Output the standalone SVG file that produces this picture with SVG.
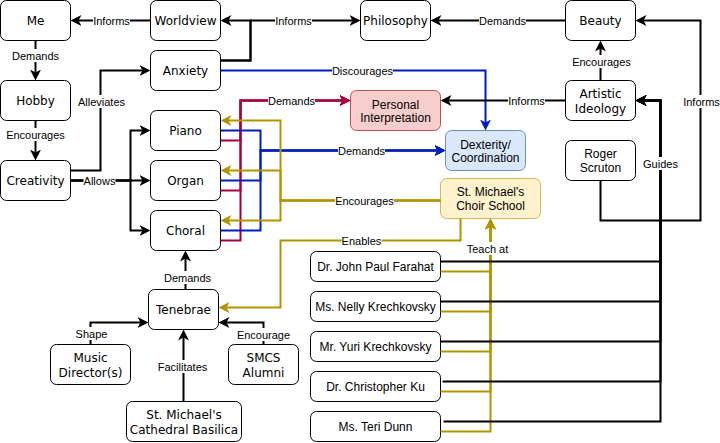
<svg xmlns="http://www.w3.org/2000/svg" width="720" height="443" viewBox="0 0 720 443">
<style>
.n{fill:#fff;stroke:#000;stroke-width:1}
.t{font-family:"DejaVu Sans",sans-serif;font-size:12px;text-anchor:middle;dominant-baseline:central;fill:#000}
.h{font-family:"Liberation Sans",Arial,sans-serif;font-size:12px;text-anchor:middle;dominant-baseline:central;fill:#000}
.e{fill:none;stroke-width:2}
.k{stroke:#000}.b{stroke:#001DBC}.r{stroke:#A50040}.g{stroke:#B09500}
.lb rect{fill:#fff}
.lb text{font-family:"Liberation Sans",Arial,sans-serif;font-size:11px;text-anchor:middle;dominant-baseline:central;fill:#000}
</style>
<defs>
<marker id="mk" markerUnits="userSpaceOnUse" markerWidth="12" markerHeight="12" refX="5" refY="5.5" orient="auto"><path d="M0,0 L11,5.5 L0,11 L3,5.5 Z" fill="#000"/></marker>
<marker id="mb" markerUnits="userSpaceOnUse" markerWidth="12" markerHeight="12" refX="5" refY="5.5" orient="auto"><path d="M0,0 L11,5.5 L0,11 L3,5.5 Z" fill="#001DBC"/></marker>
<marker id="mr" markerUnits="userSpaceOnUse" markerWidth="12" markerHeight="12" refX="5" refY="5.5" orient="auto"><path d="M0,0 L11,5.5 L0,11 L3,5.5 Z" fill="#A50040"/></marker>
<marker id="mg" markerUnits="userSpaceOnUse" markerWidth="12" markerHeight="12" refX="5" refY="5.5" orient="auto"><path d="M0,0 L11,5.5 L0,11 L3,5.5 Z" fill="#B09500"/></marker>
</defs>
<g transform="translate(0.5,0.5)">
<g id="nodes">
<g id="me"><rect class="n" x="0" y="0" width="70" height="40" rx="6"/><text class="t" x="35" y="20">Me</text></g>
<g id="worldview"><rect class="n" x="150" y="0" width="70" height="40" rx="6"/><text class="t" x="185" y="20">Worldview</text></g>
<g id="philosophy"><rect class="n" x="360" y="0" width="70" height="40" rx="6"/><text class="t" x="395" y="20">Philosophy</text></g>
<g id="beauty"><rect class="n" x="565" y="0" width="70" height="40" rx="6"/><text class="t" x="600" y="20">Beauty</text></g>
<g id="anxiety"><rect class="n" x="150" y="50" width="70" height="40" rx="6"/><text class="t" x="185" y="70">Anxiety</text></g>
<g id="hobby"><rect class="n" x="0" y="80" width="70" height="40" rx="6"/><text class="t" x="35" y="100">Hobby</text></g>
<g id="artistic"><rect class="n" x="565" y="80" width="70" height="40" rx="6"/><text class="t" x="600" y="93">Artistic</text><text class="t" x="600" y="108">Ideology</text></g>
<g id="personal"><rect x="350" y="90" width="90" height="40" rx="6" fill="#f8cecc" stroke="#b85450"/><text class="h" x="395" y="104">Personal</text><text class="h" x="395" y="117.5">Interpretation</text></g>
<g id="piano"><rect class="n" x="150" y="110" width="70" height="40" rx="6"/><text class="t" x="185" y="130">Piano</text></g>
<g id="dexterity"><rect x="445" y="130" width="80" height="40" rx="6" fill="#dae8fc" stroke="#6c8ebf"/><text class="h" x="485" y="144">Dexterity/</text><text class="h" x="485" y="157.5">Coordination</text></g>
<g id="scruton"><rect class="n" x="565" y="140" width="70" height="40" rx="6"/><text class="h" x="600" y="153.5">Roger</text><text class="h" x="600" y="167">Scruton</text></g>
<g id="creativity"><rect class="n" x="0" y="160" width="70" height="40" rx="6"/><text class="t" x="35" y="180">Creativity</text></g>
<g id="organ"><rect class="n" x="150" y="160" width="70" height="40" rx="6"/><text class="t" x="185" y="180">Organ</text></g>
<g id="choirschool"><rect x="440" y="178" width="100" height="40" rx="6" fill="#fff2cc" stroke="#d6b656"/><text class="h" x="490" y="191.5">St. Michael's</text><text class="h" x="490" y="205">Choir School</text></g>
<g id="choral"><rect class="n" x="150" y="210" width="70" height="40" rx="6"/><text class="t" x="185" y="230">Choral</text></g>
<g id="farahat"><rect class="n" x="310" y="251" width="130" height="30" rx="6"/><text class="h" x="375" y="266">Dr. John Paul Farahat</text></g>
<g id="nelly"><rect class="n" x="310" y="291" width="130" height="30" rx="6"/><text class="h" x="375" y="306">Ms. Nelly Krechkovsky</text></g>
<g id="yuri"><rect class="n" x="310" y="331" width="130" height="30" rx="6"/><text class="h" x="375" y="346">Mr. Yuri Krechkovsky</text></g>
<g id="ku"><rect class="n" x="310" y="371" width="130" height="30" rx="6"/><text class="h" x="375" y="386">Dr. Christopher Ku</text></g>
<g id="dunn"><rect class="n" x="310" y="411" width="130" height="30" rx="6"/><text class="h" x="375" y="426">Ms. Teri Dunn</text></g>
<g id="tenebrae"><rect class="n" x="148" y="289" width="70" height="40" rx="6"/><text class="t" x="183" y="309">Tenebrae</text></g>
<g id="musicdir"><rect class="n" x="50" y="344" width="80" height="40" rx="6"/><text class="t" x="90" y="357.5">Music</text><text class="t" x="90" y="372.5">Director(s)</text></g>
<g id="alumni"><rect class="n" x="228" y="344" width="70" height="40" rx="6"/><text class="t" x="263" y="357.5">SMCS</text><text class="t" x="263" y="372.5">Alumni</text></g>
<g id="cathedral"><rect class="n" x="126" y="401" width="115" height="40" rx="6"/><text class="t" x="183.5" y="414">St. Michael's</text><text class="t" x="183.5" y="429">Cathedral Basilica</text></g>
</g>
<g id="connectors">
<path class="e k" d="M150,20 L76,20" marker-end="url(#mk)"/>
<path class="e k" d="M220,60 L250,60 L250,20 L226,20" marker-end="url(#mk)"/>
<path class="e k" d="M220,60 L250,60 L250,20 L354,20" marker-end="url(#mk)"/>
<path class="e k" d="M565,20 L436,20" marker-end="url(#mk)"/>
<path class="e k" d="M35,40 L35,74" marker-end="url(#mk)"/>
<path class="e k" d="M35,120 L35,154" marker-end="url(#mk)"/>
<path class="e k" d="M70,170 L100,170 L100,70 L144,70" marker-end="url(#mk)"/>
<path class="e k" d="M70,180 L144,180" marker-end="url(#mk)"/>
<path class="e k" d="M70,180 L130,180 L130,130 L144,130" marker-end="url(#mk)"/>
<path class="e k" d="M70,180 L130,180 L130,230 L144,230" marker-end="url(#mk)"/>
<path class="e b" d="M220,70 L485,70 L485,124" marker-end="url(#mb)"/>
<path class="e r" d="M220,140 L240,140 L240,100 L344,100" marker-end="url(#mr)"/>
<path class="e r" d="M220,190 L240,190 L240,100 L344,100" marker-end="url(#mr)"/>
<path class="e r" d="M220,240 L240,240 L240,100 L344,100" marker-end="url(#mr)"/>
<path class="e b" d="M220,130 L260,130 L260,150 L439,150" marker-end="url(#mb)"/>
<path class="e b" d="M220,180 L260,180 L260,150 L439,150" marker-end="url(#mb)"/>
<path class="e b" d="M220,230 L260,230 L260,150 L439,150" marker-end="url(#mb)"/>
<path class="e g" d="M440,200 L280,200 L280,120 L226,120" marker-end="url(#mg)"/>
<path class="e g" d="M440,200 L280,200 L280,170 L226,170" marker-end="url(#mg)"/>
<path class="e g" d="M440,200 L280,200 L280,220 L226,220" marker-end="url(#mg)"/>
<path class="e g" d="M460,218 L460,240 L280,240 L280,307 L224,307" marker-end="url(#mg)"/>
<path class="e g" d="M440,271 L490,271 L490,224" marker-end="url(#mg)"/>
<path class="e g" d="M440,311 L490,311 L490,224" marker-end="url(#mg)"/>
<path class="e g" d="M440,351 L490,351 L490,224" marker-end="url(#mg)"/>
<path class="e g" d="M440,391 L490,391 L490,224" marker-end="url(#mg)"/>
<path class="e g" d="M440,431 L490,431 L490,224" marker-end="url(#mg)"/>
<path class="e k" d="M440,261 L660,261 L660,100 L641,100" marker-end="url(#mk)"/>
<path class="e k" d="M440,301 L660,301 L660,100 L641,100" marker-end="url(#mk)"/>
<path class="e k" d="M440,341 L660,341 L660,100 L641,100" marker-end="url(#mk)"/>
<path class="e k" d="M442,381 L660,381 L660,100 L641,100" marker-end="url(#mk)"/>
<path class="e k" d="M443,421 L660,421 L660,100 L641,100" marker-end="url(#mk)"/>
<path class="e k" d="M600,180 L600,220 L700,220 L700,20 L641,20" marker-end="url(#mk)"/>
<path class="e k" d="M600,80 L600,46" marker-end="url(#mk)"/>
<path class="e k" d="M565,100 L446,100" marker-end="url(#mk)"/>
<path class="e k" d="M185,289 L185,256" marker-end="url(#mk)"/>
<path class="e k" d="M90,344 L90,322 L142,322" marker-end="url(#mk)"/>
<path class="e k" d="M263,344 L263,322 L224,322" marker-end="url(#mk)"/>
<path class="e k" d="M183,401 L183,335" marker-end="url(#mk)"/>
<g class="lb"><rect x="92.5" y="13.5" width="37" height="13"/><text x="111" y="20">Informs</text></g>
<g class="lb"><rect x="274.5" y="13.5" width="37" height="13"/><text x="293" y="20">Informs</text></g>
<g class="lb"><rect x="478.5" y="13.5" width="47" height="13"/><text x="502" y="20">Demands</text></g>
<g class="lb"><rect x="11.5" y="48.5" width="47" height="13"/><text x="35" y="55">Demands</text></g>
<g class="lb"><rect x="5.5" y="127.5" width="59" height="13"/><text x="35" y="134">Encourages</text></g>
<g class="lb"><rect x="77.5" y="94.5" width="47" height="13"/><text x="101" y="101">Alleviates</text></g>
<g class="lb"><rect x="83" y="173.5" width="32" height="13"/><text x="99" y="180">Allows</text></g>
<g class="lb"><rect x="331.5" y="63.5" width="61" height="13"/><text x="362" y="70">Discourages</text></g>
<g class="lb"><rect x="267.5" y="93.5" width="47" height="13"/><text x="291" y="100">Demands</text></g>
<g class="lb"><rect x="337.5" y="143.5" width="47" height="13"/><text x="361" y="150">Demands</text></g>
<g class="lb"><rect x="334.5" y="193.5" width="59" height="13"/><text x="364" y="200">Encourages</text></g>
<g class="lb"><rect x="341" y="233.5" width="40" height="13"/><text x="361" y="240">Enables</text></g>
<g class="lb"><rect x="465.5" y="241.5" width="43" height="13"/><text x="487" y="248">Teach at</text></g>
<g class="lb"><rect x="642.5" y="156.5" width="35" height="13"/><text x="660" y="163">Guides</text></g>
<g class="lb"><rect x="682.5" y="94.5" width="37" height="13"/><text x="701" y="101">Informs</text></g>
<g class="lb"><rect x="571.5" y="54.5" width="59" height="13"/><text x="601" y="61">Encourages</text></g>
<g class="lb"><rect x="507.5" y="93.5" width="37" height="13"/><text x="526" y="100">Informs</text></g>
<g class="lb"><rect x="163.5" y="270.5" width="47" height="13"/><text x="187" y="277">Demands</text></g>
<g class="lb"><rect x="75" y="326.5" width="32" height="13"/><text x="91" y="333">Shape</text></g>
<g class="lb"><rect x="236.5" y="327.5" width="53" height="13"/><text x="263" y="334">Encourage</text></g>
<g class="lb"><rect x="157" y="359.5" width="50" height="13"/><text x="182" y="366">Facilitates</text></g>
</g>
</g>
</svg>
